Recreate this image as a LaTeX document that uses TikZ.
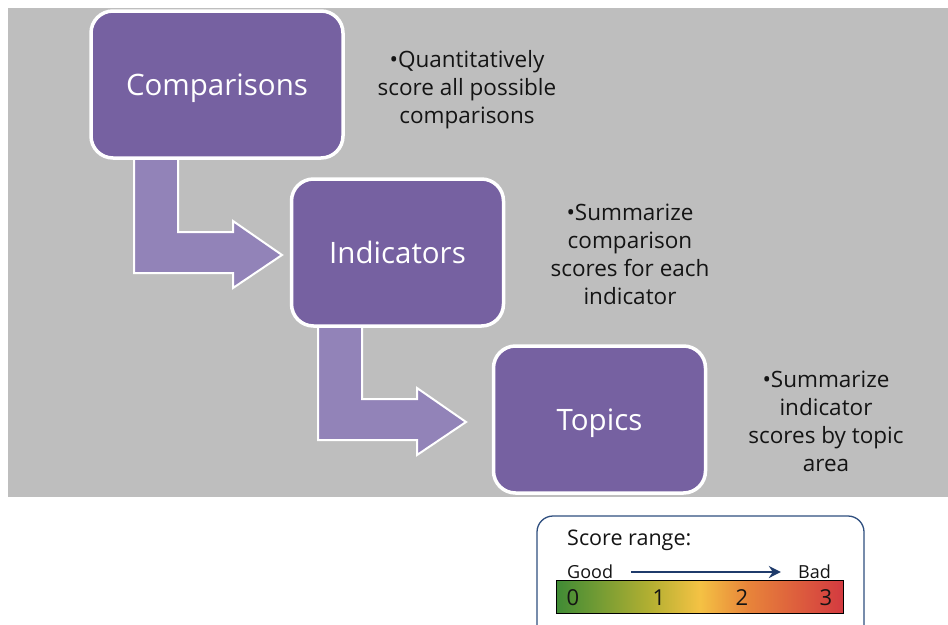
\documentclass[tikz,border=0pt]{standalone}
\usepackage{fontspec}
\setmainfont{Open Sans}
\usetikzlibrary{positioning,arrows.meta}
\definecolor{slidegray}{HTML}{BEBEBE}
\definecolor{boxpurple}{HTML}{7661A1}
\definecolor{arrowpurple}{HTML}{9283B8}
\definecolor{notegray}{HTML}{141414}
\definecolor{framblue}{HTML}{2F4F7F}
\definecolor{arrowblue}{HTML}{1F3B6B}
\definecolor{scoregreen}{HTML}{3F8B35}
\definecolor{scoreolive}{HTML}{B5B032}
\definecolor{scoreyellow}{HTML}{F4C244}
\definecolor{scoreorange}{HTML}{E8853A}
\definecolor{scorered}{HTML}{D33A40}
\pgfdeclarehorizontalshading{scorebar}{100bp}{color(0bp)=(scoregreen); color(25bp)=(scoregreen); color(41.67bp)=(scoreolive); color(50bp)=(scoreyellow); color(58.33bp)=(scoreorange); color(75bp)=(scorered); color(100bp)=(scorered)}
\tikzset{
  stagebox/.style={draw=white, line width=3.5pt, fill=boxpurple, rounded corners=22pt,
    text=white, font=\fontsize{29.5}{34}\selectfont, minimum height=147pt, inner sep=0pt,
    text depth=0pt},
  bentarrow/.style={draw=white, line width=2pt, fill=arrowpurple},
  notetext/.style={align=center, text=notegray, font=\fontsize{22.5}{28}\selectfont, inner sep=0pt},
  legendtext/.style={text=notegray, inner sep=0pt},
}
% bent arrow below a stage box, shifted by #1,#2
\newcommand{\stagearrow}[2]{%
  \draw [bentarrow, shift={(#1,#2)}] (134,150) -- (134,273) -- (233,273) -- (233,288)
    -- (282,255) -- (233,221) -- (233,232) -- (178,232) -- (178,150) -- cycle;
}

\begin{document}
\begin{tikzpicture}[x=1pt, y=-1pt]
  \clip (0,0) rectangle (948,624);
  \fill [white] (0,0) rectangle (948,624);
  \fill [slidegray] (8,8) rectangle (948,497);

  % arrows between stages
  \stagearrow{0}{0}
  \stagearrow{184}{167}

  % stages
  \node [stagebox, minimum width=252pt] (comparisons) at (217,84.5) {Comparisons};
  \node [stagebox, minimum width=212pt] (indicators) at (397.5,252.5) {Indicators};
  \node [stagebox, minimum width=212pt] (topics) at (599.5,419.5) {Topics};

  % notes
  \node [notetext] (note1) at (467,90) {•Quantitatively\\score all possible\\comparisons};
  \node [notetext] (note2) at (630,254) {•Summarize\\comparison\\scores for each\\indicator};
  \node [notetext] (note3) at (826,421) {•Summarize\\indicator\\scores by topic\\area};

  % legend
  \draw [framblue, line width=1.3pt, fill=white, rounded corners=16pt] (537,516) rectangle (864,660);
  \node [legendtext, anchor=west, font=\fontsize{21.5}{24}\selectfont] (range) at (567,540) {Score range:};
  \node [legendtext, anchor=west, font=\fontsize{18}{20}\selectfont] (good) at (567,572) {Good};
  \node [legendtext, anchor=east, font=\fontsize{18}{20}\selectfont] (bad) at (831,572) {Bad};
  \draw [arrowblue, line width=2.5pt, -{Stealth[length=12pt, width=12pt]}]
    ([xshift=18pt]good.east) -- ([xshift=-17pt]bad.west);
  \node [draw=black, line width=1pt, shading=scorebar, minimum width=287pt, minimum height=33pt,
    inner sep=0pt] (bar) at (699.5,597) {};
  \foreach \score/\xpos in {0/573, 1/659, 2/742, 3/826}
    \node [legendtext, font=\fontsize{22}{24}\selectfont] (score\score) at (\xpos,598) {\score};
\end{tikzpicture}
\end{document}
